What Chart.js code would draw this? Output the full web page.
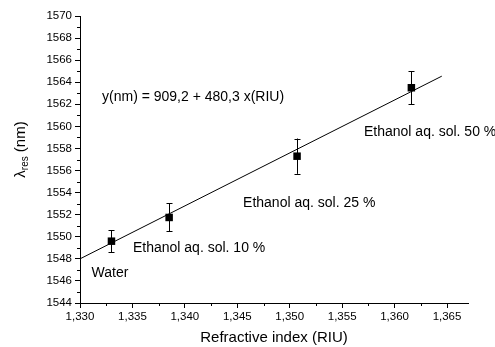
<!DOCTYPE html>
<html>
<head>
<meta charset="utf-8">
<script src="https://cdn.jsdelivr.net/npm/chart.js@4"></script>
<style>
  html, body { margin: 0; padding: 0; background: #fff; }
</style>
</head>
<body>
<canvas id="chart" width="495" height="347"></canvas>
<script>
// measured points (refractive index vs resonance wavelength)
const refIndex = [1.3330, 1.3385, 1.3507, 1.3616];
const lambdaRes = [1549.6, 1551.75, 1557.3, 1563.5];
const lambdaErr = [1.0, 1.27, 1.6, 1.5];

// linear fit y = 909.2 + 480.3 x, end points
const fitX = [1.3300, 1.3645];
const fitY = [1548.0, 1564.55];

// axis ticks
const xMajorTicks = [1.330, 1.335, 1.340, 1.345, 1.350, 1.355, 1.360, 1.365];
const xMinorTicks = [1.3325, 1.3375, 1.3425, 1.3475, 1.3525, 1.3575, 1.3625];
const yMajorTicks = [1544, 1546, 1548, 1550, 1552, 1554, 1556, 1558, 1560, 1562, 1564, 1566, 1568, 1570];
const yMinorTicks = [1545, 1547, 1549, 1551, 1553, 1555, 1557, 1559, 1561, 1563, 1565, 1567, 1569];

// text labels on the plot
const noteTexts = ['y(nm) = 909,2 + 480,3 x(RIU)', 'Water', 'Ethanol aq. sol. 10 %', 'Ethanol aq. sol. 25 %', 'Ethanol aq. sol. 50 %'];
const noteX = [1.3321, 1.3311, 1.33505, 1.34555, 1.35708];
const noteY = [1562.67, 1546.7, 1548.96, 1553.03, 1559.46];

const FONT = '"Liberation Sans", Arial, sans-serif';

const extrasPlugin = {
  id: 'extras',
  afterDatasetsDraw(chart) {
    const ctx = chart.ctx;
    const xs = chart.scales.x;
    const ys = chart.scales.y;
    ctx.save();
    ctx.strokeStyle = '#000';
    ctx.lineWidth = 1;

    // error bars
    refIndex.forEach((rx, i) => {
      const px = Math.round(xs.getPixelForValue(rx)) + 0.5;
      const top = ys.getPixelForValue(lambdaRes[i] + lambdaErr[i]);
      const bot = ys.getPixelForValue(lambdaRes[i] - lambdaErr[i]);
      ctx.beginPath();
      ctx.moveTo(px, top); ctx.lineTo(px, bot);
      ctx.moveTo(px - 3, Math.round(top) + 0.5); ctx.lineTo(px + 3, Math.round(top) + 0.5);
      ctx.moveTo(px - 3, Math.round(bot) + 0.5); ctx.lineTo(px + 3, Math.round(bot) + 0.5);
      ctx.stroke();
    });

    // minor ticks
    const area = chart.chartArea;
    ctx.beginPath();
    xMinorTicks.forEach(v => {
      const px = Math.round(xs.getPixelForValue(v)) + 0.5;
      ctx.moveTo(px, area.bottom); ctx.lineTo(px, area.bottom + 3);
    });
    yMinorTicks.forEach(v => {
      const py = Math.round(ys.getPixelForValue(v)) + 0.5;
      ctx.moveTo(area.left, py); ctx.lineTo(area.left - 3, py);
    });
    ctx.stroke();

    // notes
    ctx.fillStyle = '#000';
    ctx.font = '14px ' + FONT;
    ctx.textAlign = 'left';
    ctx.textBaseline = 'middle';
    noteTexts.forEach((t, i) => {
      ctx.fillText(t, xs.getPixelForValue(noteX[i]), ys.getPixelForValue(noteY[i]));
    });

    // y axis title with subscript
    ctx.translate(20, (area.top + area.bottom) / 2 - 10);
    ctx.rotate(-Math.PI / 2);
    ctx.textBaseline = 'alphabetic';
    const big = '15px ' + FONT, small = '10px ' + FONT;
    ctx.font = big;
    const w1 = ctx.measureText('\u03bb').width;
    const w3 = ctx.measureText(' (nm)').width;
    ctx.font = small;
    const w2 = ctx.measureText('res').width;
    let x0 = -(w1 + w2 + w3) / 2;
    ctx.font = big;
    ctx.fillText('\u03bb', x0, 5);
    ctx.font = small;
    ctx.fillText('res', x0 + w1, 8);
    ctx.font = big;
    ctx.fillText(' (nm)', x0 + w1 + w2, 5);
    ctx.restore();
  }
};

new Chart(document.getElementById('chart'), {
  type: 'scatter',
  data: {
    datasets: [
      {
        label: 'fit',
        type: 'line',
        data: fitX.map((x, i) => ({ x: x, y: fitY[i] })),
        borderColor: '#000',
        borderWidth: 1,
        pointRadius: 0,
        fill: false
      },
      {
        label: 'data',
        data: refIndex.map((x, i) => ({ x: x, y: lambdaRes[i] })),
        pointStyle: 'rect',
        pointRadius: 5.3,
        backgroundColor: '#000',
        borderColor: '#000',
        borderWidth: 0
      }
    ]
  },
  options: {
    responsive: false,
    animation: false,
    layout: { padding: { top: 16, right: 27, left: 0, bottom: 0 } },
    plugins: { legend: { display: false }, tooltip: { enabled: false } },
    scales: {
      x: {
        type: 'linear',
        min: 1.330,
        max: 1.367,
        afterBuildTicks: s => { s.ticks = xMajorTicks.map(v => ({ value: v })); },
        afterFit: s => { s.height = 44; },
        ticks: {
          color: '#000',
          font: { family: FONT, size: 11.5 },
          padding: 2,
          maxRotation: 0,
          callback: v => v.toFixed(3).replace('.', ',')
        },
        grid: { drawOnChartArea: false, drawTicks: true, tickLength: 5, color: '#000' },
        border: { display: true, color: '#000', width: 1 },
        title: {
          display: true,
          text: 'Refractive index (RIU)',
          color: '#000',
          font: { family: FONT, size: 15 },
          padding: { top: 4, bottom: 0 }
        }
      },
      y: {
        type: 'linear',
        min: 1544,
        max: 1570,
        afterBuildTicks: s => { s.ticks = yMajorTicks.map(v => ({ value: v })); },
        afterFit: s => { s.width = 80; },
        ticks: {
          color: '#000',
          font: { family: FONT, size: 11.5 },
          padding: 3,
          callback: v => String(v)
        },
        grid: { drawOnChartArea: false, drawTicks: true, tickLength: 5, color: '#000' },
        border: { display: true, color: '#000', width: 1 }
      }
    }
  },
  plugins: [extrasPlugin]
});
</script>
</body>
</html>
